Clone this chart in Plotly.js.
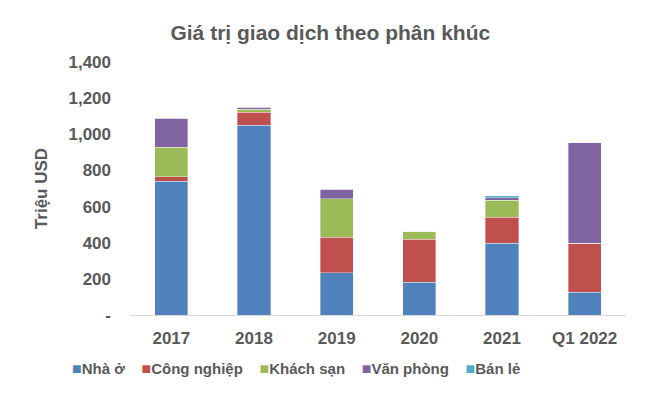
<!DOCTYPE html>
<html><head><meta charset="utf-8">
<script src="https://cdn.plot.ly/plotly-3.0.1.min.js"></script>
<style>html,body{margin:0;padding:0;background:#fff}#c{width:658px;height:396px}</style>
</head><body><div id="c"></div>
<script>
const categories = ["2017","2018","2019","2020","2021","Q1 2022"];
const nhaO = [741, 1051, 234, 181, 398, 126];
const congNghiep = [24, 71, 196, 238, 144, 271];
const khachSan = [163, 16, 212, 44, 94, 0];
const vanPhong = [160, 11, 55, 0, 13, 556];
const banLe = [0, 0, 0, 0, 11, 0];
const seriesNames = ["Nhà ở","Công nghiệp","Khách sạn","Văn phòng","Bán lẻ"];
const seriesColors = ["#4F81BD","#C0504D","#9BBB59","#8064A2","#4BACC6"];
const tickVals = [0,200,400,600,800,1000,1200,1400];
const tickText = ["-","200","400","600","800","1,000","1,200","1,400"];

const allSeries = [nhaO, congNghiep, khachSan, vanPhong, banLe];
const data = allSeries.map((vals,i)=>({
  type:"bar", x:categories, y:vals, name:seriesNames[i],
  marker:{color:seriesColors[i], line:{color:"rgba(255,255,255,0.6)", width:0.6}},
  hoverinfo:"y+name"
}));
const gap = "\u00a0".repeat(4);
const legendText = seriesNames.map((n,i)=>
  `<span style="color:${seriesColors[i]};font-size:16px">\u25A0</span><b>${n}</b>`).join(gap);
const layout = {
  width:658, height:396,
  barmode:"stack", bargap:0.6,
  margin:{l:130, r:32, t:62, b:81},
  paper_bgcolor:"#fff", plot_bgcolor:"#fff",
  font:{family:"Liberation Sans, Arial, sans-serif", color:"#595959"},
  title:{text:"<b>Giá trị giao dịch theo phân khúc</b>", x:0.502, xanchor:"center", y:0.918, yanchor:"middle",
    font:{size:21, color:"#595959"}},
  xaxis:{type:"category", showline:true, linecolor:"#d9d9d9", linewidth:1, ticks:"", showgrid:false,
    automargin:false, tickfont:{size:17, color:"#595959", weight:"bold"}, ticklabelstandoff:8},
  yaxis:{range:[0,1400], tickvals:tickVals, ticktext:tickText, showgrid:false, zeroline:false,
    automargin:false, showline:false, tickfont:{size:17, color:"#595959", weight:"bold"}, ticklabelstandoff:18,
    title:{text:"<b>Triệu USD</b>", font:{size:17, color:"#595959"}, standoff:16}},
  showlegend:false,
  annotations:[{xref:"paper", yref:"paper", x:(296-130)/496, y:-(368-315)/253, xanchor:"center", yanchor:"middle",
    showarrow:false, text:legendText, font:{size:15, color:"#595959"}}]
};
Plotly.newPlot("c", data, layout, {displayModeBar:false, staticPlot:true});
</script></body></html>
